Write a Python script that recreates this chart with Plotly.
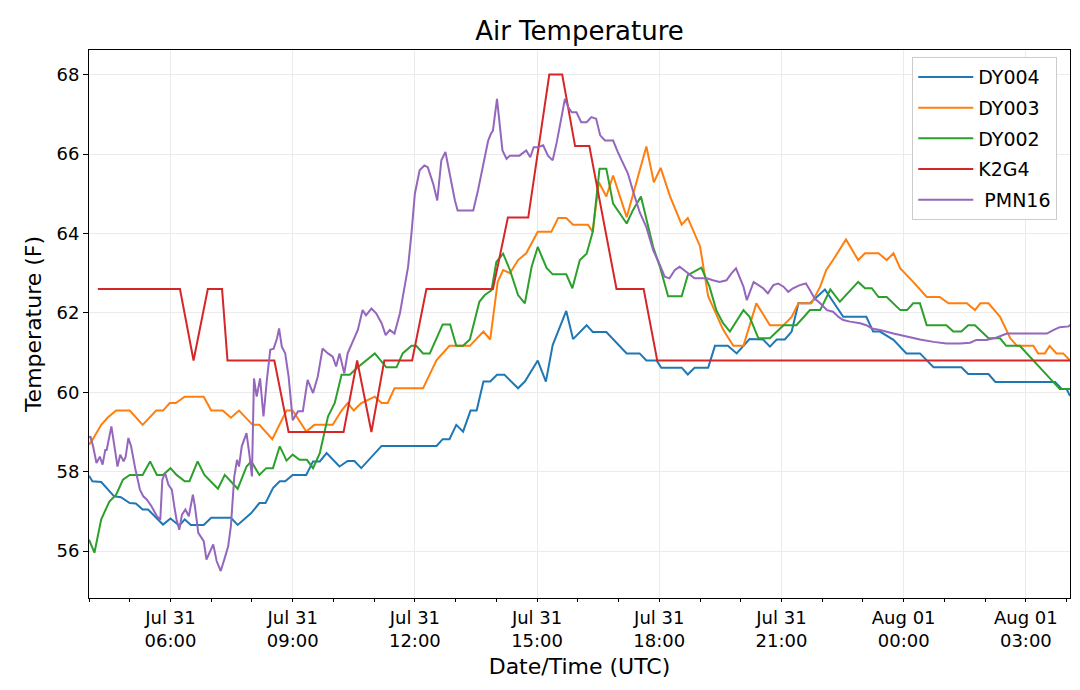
import pandas as pd
import plotly.graph_objects as go

START = "2018-07-31 04:00"

# minutes after START, temperature (F)
dy004_min = [0, 5, 18, 37, 47, 60, 69, 79, 87, 109, 120, 133, 141, 150, 169, 180, 209, 219, 239, 251,
             260, 271, 281, 289, 300, 320, 330, 340, 350, 369, 381, 391, 401, 431, 512, 521, 531, 541, 551, 562,
             571, 581, 591, 601, 612, 632, 642, 661, 673, 683, 703, 713, 733, 742, 762, 792, 811, 821, 836, 843,
             873, 882, 892, 912, 922, 941, 954, 973, 993, 1003, 1013, 1025, 1035, 1045, 1062, 1084, 1111, 1145, 1155, 1165,
             1185, 1204, 1224, 1244, 1285, 1295, 1325, 1335, 1423, 1433, 1440, 1445]
dy004_val = [57.9, 57.76, 57.74, 57.38, 57.36, 57.21, 57.2, 57.05, 57.05, 56.67, 56.82, 56.64, 56.8, 56.66, 56.66, 56.84, 56.84, 56.66, 56.96, 57.21,
             57.21, 57.59, 57.76, 57.76, 57.92, 57.92, 58.26, 58.26, 58.47, 58.13, 58.27, 58.27, 58.09, 58.65, 58.65, 58.82, 58.82, 59.18, 59.01, 59.54,
             59.54, 60.27, 60.27, 60.44, 60.44, 60.1, 60.27, 60.8, 60.27, 61.19, 62.05, 61.34, 61.69, 61.52, 61.52, 60.98, 60.98, 60.8, 60.8, 60.62,
             60.62, 60.45, 60.62, 60.62, 61.17, 61.17, 60.98, 61.34, 61.33, 61.15, 61.33, 61.33, 61.53, 62.24, 62.24, 62.59, 61.9, 61.9, 61.53, 61.53,
             61.32, 60.98, 60.98, 60.63, 60.63, 60.46, 60.46, 60.26, 60.26, 60.08, 60.08, 59.91]

dy003_min = [0, 5, 18, 28, 40, 60, 79, 99, 109, 119, 128, 141, 169, 180, 197, 209, 221, 241, 251, 270,
             291, 300, 320, 332, 359, 372, 381, 390, 401, 421, 431, 440, 450, 492, 512, 531, 561, 581, 591, 602,
             610, 620, 632, 644, 661, 681, 691, 703, 713, 735, 742, 751, 762, 772, 792, 821, 832, 842, 856, 873,
             882, 900, 912, 934, 949, 964, 983, 1003, 1023, 1035, 1045, 1064, 1077, 1086, 1096, 1115, 1133, 1143, 1163, 1175,
             1185, 1195, 1214, 1234, 1253, 1266, 1293, 1305, 1313, 1325, 1342, 1357, 1367, 1391, 1398, 1408, 1415, 1425, 1435, 1445]
dy003_val = [58.68, 58.8, 59.18, 59.37, 59.54, 59.54, 59.18, 59.54, 59.54, 59.73, 59.73, 59.89, 59.89, 59.54, 59.54, 59.36, 59.54, 59.18, 59.18, 58.82,
             59.54, 59.54, 59.01, 59.18, 59.18, 59.54, 59.73, 59.54, 59.73, 59.89, 59.73, 59.73, 60.1, 60.1, 60.81, 61.17, 61.17, 61.53, 61.33, 62.78,
             63.08, 63.0, 63.33, 63.5, 64.04, 64.04, 64.39, 64.39, 64.22, 64.22, 64.04, 65.29, 64.93, 65.46, 64.41, 66.19, 65.29, 65.65, 64.93, 64.22,
             64.39, 63.68, 62.42, 61.58, 61.17, 61.17, 62.24, 61.69, 61.69, 61.9, 62.24, 62.24, 62.66, 63.08, 63.33, 63.85, 63.33, 63.5, 63.5, 63.33,
             63.5, 63.12, 62.78, 62.4, 62.4, 62.24, 62.24, 62.07, 62.24, 62.24, 61.9, 61.36, 61.17, 61.17, 60.98, 60.98, 61.17, 60.98, 60.98, 60.8]

dy002_min = [0, 8, 18, 30, 40, 50, 60, 79, 90, 100, 109, 120, 129, 141, 148, 160, 170, 190, 200, 209,
             219, 232, 239, 251, 261, 271, 281, 291, 300, 310, 321, 330, 340, 352, 362, 372, 384, 396, 406, 421,
             438, 453, 462, 475, 482, 492, 502, 521, 532, 541, 551, 561, 575, 583, 593, 600, 610, 620, 632, 642,
             652, 661, 674, 683, 703, 712, 723, 733, 742, 752, 762, 772, 792, 801, 813, 831, 841, 853, 873, 882,
             902, 914, 924, 934, 944, 964, 973, 986, 1003, 1023, 1042, 1062, 1077, 1092, 1106, 1133, 1143, 1153, 1163, 1175,
             1195, 1205, 1214, 1224, 1234, 1263, 1273, 1285, 1295, 1305, 1325, 1342, 1351, 1371, 1430, 1445]
dy002_val = [56.29, 55.96, 56.8, 57.25, 57.42, 57.8, 57.92, 57.92, 58.26, 57.92, 57.92, 58.09, 57.92, 57.76, 57.76, 58.26, 57.92, 57.57, 57.92, 57.76,
             57.57, 58.13, 58.26, 57.92, 58.09, 58.09, 58.64, 58.28, 58.43, 58.3, 58.3, 58.09, 58.47, 59.39, 59.73, 60.44, 60.44, 60.63, 60.77, 60.98,
             60.63, 60.63, 60.98, 61.17, 61.17, 60.98, 60.98, 61.71, 61.71, 61.17, 61.17, 61.33, 62.28, 62.45, 62.57, 63.28, 63.49, 63.08, 62.45, 62.24,
             63.16, 63.66, 63.13, 62.97, 62.97, 62.62, 63.33, 63.49, 64.04, 65.63, 65.63, 64.75, 64.25, 64.58, 64.93, 63.66, 63.16, 62.42, 62.42, 62.95,
             63.14, 62.66, 62.07, 61.74, 61.53, 62.07, 61.9, 61.36, 61.36, 61.69, 61.69, 62.07, 62.07, 62.59, 62.28, 62.78, 62.62, 62.62, 62.4, 62.4,
             62.07, 62.07, 62.24, 62.24, 61.69, 61.69, 61.53, 61.53, 61.69, 61.69, 61.36, 61.36, 61.17, 61.17, 60.08, 60.08]

k2g4_min = [13, 134, 154, 175, 196, 204, 273, 294, 375, 395, 416, 435, 476, 497, 595, 617, 647, 678, 697, 716,
            737, 777, 817, 837, 1445]
k2g4_val = [62.6, 62.6, 60.8, 62.6, 62.6, 60.8, 60.8, 59.0, 59.0, 60.8, 59.0, 60.8, 60.8, 62.6, 62.6, 64.4, 64.4, 68.0, 68.0, 66.2,
            66.2, 62.6, 62.6, 60.8, 60.8]

pmn16_min = [0, 2, 6, 11, 16, 20, 24, 26, 33, 37, 42, 46, 51, 54, 58, 62, 68, 75, 80, 85,
             92, 100, 105, 108, 112, 117, 122, 126, 129, 133, 137, 142, 147, 153, 156, 161, 169, 173, 179, 183,
             188, 194, 200, 205, 209, 214, 218, 221, 225, 229, 232, 236, 240, 243, 247, 252, 257, 262, 267, 272,
             277, 280, 284, 289, 294, 300, 308, 315, 322, 330, 337, 344, 352, 359, 364, 369, 376, 381, 389, 396,
             403, 408, 416, 423, 431, 437, 443, 450, 458, 465, 470, 475, 480, 487, 494, 499, 507, 513, 519, 525,
             531, 539, 543, 566, 573, 580, 583, 588, 592, 595, 601, 604, 609, 615, 620, 627, 634, 644, 650, 655,
             661, 669, 676, 683, 689, 696, 701, 706, 711, 718, 725, 733, 740, 747, 753, 760, 772, 779, 787, 794,
             801, 811, 821, 831, 841, 848, 855, 863, 870, 880, 885, 892, 900, 910, 919, 929, 939, 946, 953, 958,
             964, 969, 973, 979, 986, 993, 1000, 1008, 1015, 1023, 1030, 1037, 1047, 1056, 1062, 1069, 1077, 1087, 1096, 1104,
             1111, 1121, 1136, 1145, 1153, 1165, 1185, 1204, 1224, 1244, 1263, 1283, 1298, 1307, 1322, 1337, 1352, 1371, 1391, 1411,
             1421, 1430, 1443, 1445]
pmn16_val = [58.85, 58.89, 58.64, 58.22, 58.38, 58.18, 58.55, 58.55, 59.14, 58.72, 58.13, 58.43, 58.26, 58.38, 58.85, 58.64, 58.09, 57.55, 57.38, 57.3,
             57.13, 56.88, 56.79, 57.8, 57.97, 57.67, 57.55, 57.09, 56.79, 56.54, 56.92, 57.05, 56.88, 57.42, 57.13, 56.46, 56.25, 55.79, 56.04, 56.17,
             55.75, 55.5, 55.83, 56.12, 56.63, 57.88, 58.3, 58.13, 58.64, 58.85, 58.97, 58.47, 57.88, 60.35, 59.89, 60.35, 59.39, 60.31, 61.07, 61.1,
             61.36, 61.61, 61.15, 60.98, 60.4, 59.3, 59.52, 59.52, 60.31, 59.98, 60.4, 61.1, 60.98, 60.9, 60.65, 60.98, 60.48, 60.98, 61.32, 61.57,
             62.07, 61.94, 62.11, 61.99, 61.74, 61.44, 61.57, 61.48, 61.99, 62.66, 63.16, 64.0, 65.0, 65.59, 65.71, 65.67, 65.25, 64.83, 65.84, 66.05,
             65.5, 64.83, 64.58, 64.58, 65.09, 65.67, 65.84, 66.34, 66.51, 66.59, 67.39, 66.84, 66.09, 65.88, 65.96, 65.96, 65.96, 66.09, 65.92, 66.17,
             66.17, 66.22, 65.96, 65.84, 66.3, 66.93, 67.39, 67.18, 67.05, 67.05, 66.8, 66.8, 66.93, 66.89, 66.47, 66.34, 66.34, 66.05, 65.76, 65.5,
             65.09, 64.54, 64.16, 63.58, 63.2, 62.91, 62.87, 63.08, 63.16, 63.03, 62.95, 62.87, 62.87, 62.87, 62.82, 62.78, 62.82, 62.99, 63.12, 62.91,
             62.66, 62.32, 62.49, 62.78, 62.7, 62.62, 62.49, 62.7, 62.74, 62.66, 62.53, 62.62, 62.7, 62.74, 62.57, 62.36, 62.24, 62.07, 62.03, 61.9,
             61.82, 61.78, 61.74, 61.69, 61.61, 61.57, 61.48, 61.4, 61.33, 61.27, 61.23, 61.23, 61.25, 61.32, 61.32, 61.38, 61.48, 61.48, 61.48, 61.48,
             61.57, 61.64, 61.66, 61.7]

series = [
    ("DY004", dy004_min, dy004_val, "#1f77b4"),
    ("DY003", dy003_min, dy003_val, "#ff7f0e"),
    ("DY002", dy002_min, dy002_val, "#2ca02c"),
    ("K2G4", k2g4_min, k2g4_val, "#d62728"),
    (" PMN16", pmn16_min, pmn16_val, "#9467bd"),
]

start = pd.Timestamp(START)
fig = go.Figure()
for i, (name, mins, vals, color) in enumerate(series):
    pairs = sorted(zip(mins, vals), key=lambda p: p[0])
    t = start + pd.to_timedelta([p[0] for p in pairs], unit="min")
    fig.add_trace(go.Scatter(
        x=t, y=[p[1] for p in pairs], mode="lines", name=name,
        line=dict(color=color, width=2), legendgroup=f"g{i}",
    ))

tickvals = pd.date_range("2018-07-31 06:00", periods=8, freq="3h")
ticktext = [d.strftime("%b %d") + "<br>" + d.strftime("%H:%M") for d in tickvals]

font = "DejaVu Sans"
fig.update_layout(
    width=1080, height=690,
    paper_bgcolor="white", plot_bgcolor="white",
    margin=dict(l=89, r=10, t=50, b=92, autoexpand=False),
    font=dict(family=font, size=18, color="black"),
    title=dict(text="Air Temperature", xref="paper", x=0.5, xanchor="center",
               yref="container", y=0.955, yanchor="middle",
               font=dict(size=26, family=font, color="black")),
    legend=dict(x=0.987, y=0.987, xanchor="right", yanchor="top",
                bgcolor="white", bordercolor="#cccccc", borderwidth=1,
                font=dict(size=19, family=font), tracegroupgap=3, itemwidth=55),
    showlegend=True,
)
fig.update_xaxes(
    type="date", automargin=False,
    range=[start, start + pd.Timedelta(minutes=1445)],
    tickmode="array", tickvals=tickvals, ticktext=ticktext,
    ticks="outside", ticklen=3, tickcolor="black",
    showline=True, linecolor="black", linewidth=1, mirror=True,
    showgrid=True, gridcolor="#ebebeb", gridwidth=1, zeroline=False,
    minor=dict(tickmode="linear", tick0=START, dtick=3600000, ticks="outside", ticklen=3,
               tickcolor="black", showgrid=False),
    title=dict(text="Date/Time (UTC)", font=dict(size=22, family=font), standoff=8),
    tickfont=dict(size=18, family=font),
)
fig.update_yaxes(
    automargin=False,
    range=[54.82, 68.62],
    tickmode="array", tickvals=[56, 58, 60, 62, 64, 66, 68],
    ticks="outside", ticklen=5, tickcolor="black",
    showline=True, linecolor="black", linewidth=1, mirror=True,
    showgrid=True, gridcolor="#ebebeb", gridwidth=1, zeroline=False,
    title=dict(text="Temperature (F)", font=dict(size=22, family=font), standoff=8),
    tickfont=dict(size=18, family=font),
)

fig.write_html("out.html", config={"displayModeBar": False},
               post_script="document.body.style.margin='0px';")
